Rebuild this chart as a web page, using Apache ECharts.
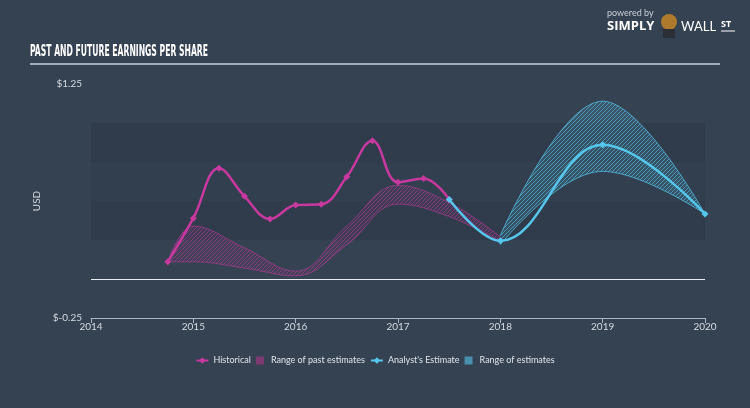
<!DOCTYPE html>
<html><head><meta charset="utf-8">
<script src="https://cdn.jsdelivr.net/npm/echarts@6/dist/echarts.min.js"></script>
<style>html,body{margin:0;padding:0;background:#354252;}#c{width:750px;height:408px;}</style>
</head><body><div id="c"></div>
<script>
// ---- data ----
const histX = [2014.75, 2015, 2015.25, 2015.5, 2015.75, 2016, 2016.25, 2016.5, 2016.75, 2017, 2017.25, 2017.5];
const histY = [0.11, 0.39, 0.71, 0.53, 0.385, 0.474, 0.479, 0.656, 0.887, 0.62, 0.645, 0.51];
const pastRangeX = [2014.75, 2015, 2015.5, 2016, 2016.5, 2017, 2017.5, 2018];
const pastLow    = [0.11, 0.11, 0.07, 0.02, 0.22, 0.48, 0.40, 0.24];
const pastHigh   = [0.11, 0.34, 0.20, 0.05, 0.34, 0.60, 0.49, 0.27];
const estX = [2017.5, 2018, 2019, 2020];
const estY = [0.51, 0.245, 0.86, 0.417];
const estRangeX = [2018, 2019, 2020];
const estLow  = [0.22, 0.69, 0.417];
const estHigh = [0.28, 1.14, 0.417];
const yearTicks = [2014, 2015, 2016, 2017, 2018, 2019, 2020];
const yLabelShown = [-0.25, 1.25];

const MAG = '#c8399f', CYAN = '#55c6ec';
function hatch(line, fill) {
  const c = document.createElement('canvas'); c.width = 4; c.height = 4;
  const g = c.getContext('2d');
  g.fillStyle = fill; g.fillRect(0, 0, 4, 4);
  g.strokeStyle = line; g.lineWidth = 1;
  g.beginPath(); g.moveTo(0, 4); g.lineTo(4, 0); g.moveTo(-1, 1); g.lineTo(1, -1); g.moveTo(3, 5); g.lineTo(5, 3); g.stroke();
  return { image: c, repeat: 'repeat' };
}
// [y, x] pairs so that the stacked dimension is the value (y), not x
const pairYX = (xs, ys) => xs.map((x, i) => [ys[i], x]);
const pair = (xs, ys) => xs.map((x, i) => [x, ys[i]]);

// title width fit
const title = 'PAST AND FUTURE EARNINGS PER SHARE';
const titleFont = 'bold 15px "DejaVu Sans Condensed", "DejaVu Sans"';
const mc = document.createElement('canvas').getContext('2d'); mc.font = titleFont;
const tScale = 178 / mc.measureText(title).width;

const bandBase = { type: 'line', smooth: 0.4, symbol: 'none', silent: true, encode: { x: 1, y: 0 } };

const chart = echarts.init(document.getElementById('c'), null, { renderer: 'canvas' });
chart.setOption({
  backgroundColor: '#354252',
  animation: false,
  textStyle: { fontFamily: 'Lato, "Noto Sans", sans-serif' },
  grid: { left: 91, right: 45, top: 84, bottom: 90, containLabel: false },
  legend: {
    top: 351, left: 'center', itemGap: 5, itemWidth: 12, itemHeight: 8,
    textStyle: { color: '#dfe4ea', fontSize: 9, fontFamily: 'Lato, "Noto Sans", sans-serif' },
    data: [
      { name: 'Historical' },
      { name: 'Range of past estimates', icon: 'path://M3,0L9,0L9,6L3,6Z' },
      { name: "Analyst's Estimate" },
      { name: 'Range of estimates', icon: 'path://M3,0L9,0L9,6L3,6Z' }
    ]
  },
  xAxis: {
    type: 'value', min: 2014, max: 2020, interval: 1,
    axisLine: { show: true, onZero: false, lineStyle: { color: '#a9b6c3', width: 1 } },
    axisTick: { show: true, length: 5, lineStyle: { color: '#a9b6c3' } },
    axisLabel: { color: '#d5dbe2', fontSize: 10, margin: 4, formatter: v => yearTicks.includes(v) ? String(v) : '' },
    splitLine: { show: false }
  },
  yAxis: {
    type: 'value', min: -0.25, max: 1.25, interval: 0.25,
    name: 'USD', nameLocation: 'middle', nameGap: 33, nameRotate: 90,
    nameTextStyle: { color: '#d5dbe2', fontSize: 10 },
    axisLine: { show: false }, axisTick: { show: false },
    axisLabel: { color: '#d5dbe2', fontSize: 10, margin: 9,
      formatter: v => yLabelShown.some(s => Math.abs(s - v) < 1e-9) ? '$' + v.toFixed(2) : '' },
    splitLine: { show: false },
    splitArea: { show: true, areaStyle: { color: ['rgba(0,0,0,0)', 'rgba(0,0,0,0)', 'rgba(20,30,42,0.14)', 'rgba(20,30,42,0.07)', 'rgba(20,30,42,0.14)', 'rgba(0,0,0,0)'] } }
  },
  series: [
    Object.assign({}, bandBase, { name: 'pastLow', stack: 'past',
      data: pairYX(pastRangeX, pastLow), lineStyle: { color: 'rgba(200,57,159,0.55)', width: 1 }, z: 1 }),
    Object.assign({}, bandBase, { name: 'Range of past estimates', stack: 'past',
      data: pairYX(pastRangeX, pastHigh.map((h, i) => h - pastLow[i])),
      itemStyle: { color: '#7e3a73' },
      lineStyle: { color: 'rgba(200,57,159,0.55)', width: 1 },
      areaStyle: { color: hatch('rgba(200,57,159,0.5)', 'rgba(200,57,159,0.1)'), opacity: 1 }, z: 1 }),
    Object.assign({}, bandBase, { name: 'estLow', stack: 'est',
      data: pairYX(estRangeX, estLow), lineStyle: { color: 'rgba(85,198,236,0.75)', width: 1 }, z: 2 }),
    Object.assign({}, bandBase, { name: 'Range of estimates', stack: 'est',
      data: pairYX(estRangeX, estHigh.map((h, i) => h - estLow[i])),
      itemStyle: { color: '#4a8fb0' },
      lineStyle: { color: 'rgba(85,198,236,0.75)', width: 1 },
      areaStyle: { color: hatch('rgba(85,198,236,0.6)', 'rgba(85,198,236,0.15)'), opacity: 1 }, z: 2 }),
    { name: 'Historical', type: 'line', smooth: 0.4, symbol: 'diamond', symbolSize: 7,
      data: pair(histX, histY), itemStyle: { color: MAG }, lineStyle: { color: MAG, width: 2.5 }, z: 4,
      markLine: { silent: true, symbol: 'none', label: { show: false },
        lineStyle: { color: '#e8edf2', width: 1.2, type: 'solid' }, data: [{ yAxis: 0 }] } },
    { name: "Analyst's Estimate", type: 'line', smooth: 0.4, symbol: 'diamond', symbolSize: 7,
      data: pair(estX, estY), itemStyle: { color: CYAN }, lineStyle: { color: CYAN, width: 2.5 }, z: 5 }
  ],
  graphic: [
    { type: 'text', left: 30, top: 45, scaleX: tScale,
      style: { text: title, font: titleFont, fill: '#ffffff' } },
    { type: 'line', shape: { x1: 30, y1: 64, x2: 720, y2: 64 }, style: { stroke: '#c9d2dc', lineWidth: 1.5 } },
    { type: 'text', left: 607, top: 9, style: { text: 'powered by', font: '9px Lato, "Noto Sans"', fill: '#c9d0d8' } },
    { type: 'text', left: 607, top: 20, style: { text: 'SIMPLY', font: 'bold 13px "Open Sans", Lato', fill: '#ffffff' } },
    { type: 'circle', shape: { cx: 669, cy: 22, r: 8 }, style: { fill: '#b07a2c' } },
    { type: 'rect', shape: { x: 663, y: 29, width: 12, height: 9 }, style: { fill: '#2a2f38' } },
    { type: 'text', left: 681, top: 20, style: { text: 'WALL', font: '13px Lato, "Open Sans"', fill: '#ffffff' } },
    { type: 'text', left: 721, top: 20, style: { text: 'ST', font: 'bold 9px "Open Sans", Lato', fill: '#ffffff' } },
    { type: 'line', shape: { x1: 721, y1: 31, x2: 735, y2: 31 }, style: { stroke: '#ffffff', lineWidth: 1 } }
  ]
});
</script></body></html>
